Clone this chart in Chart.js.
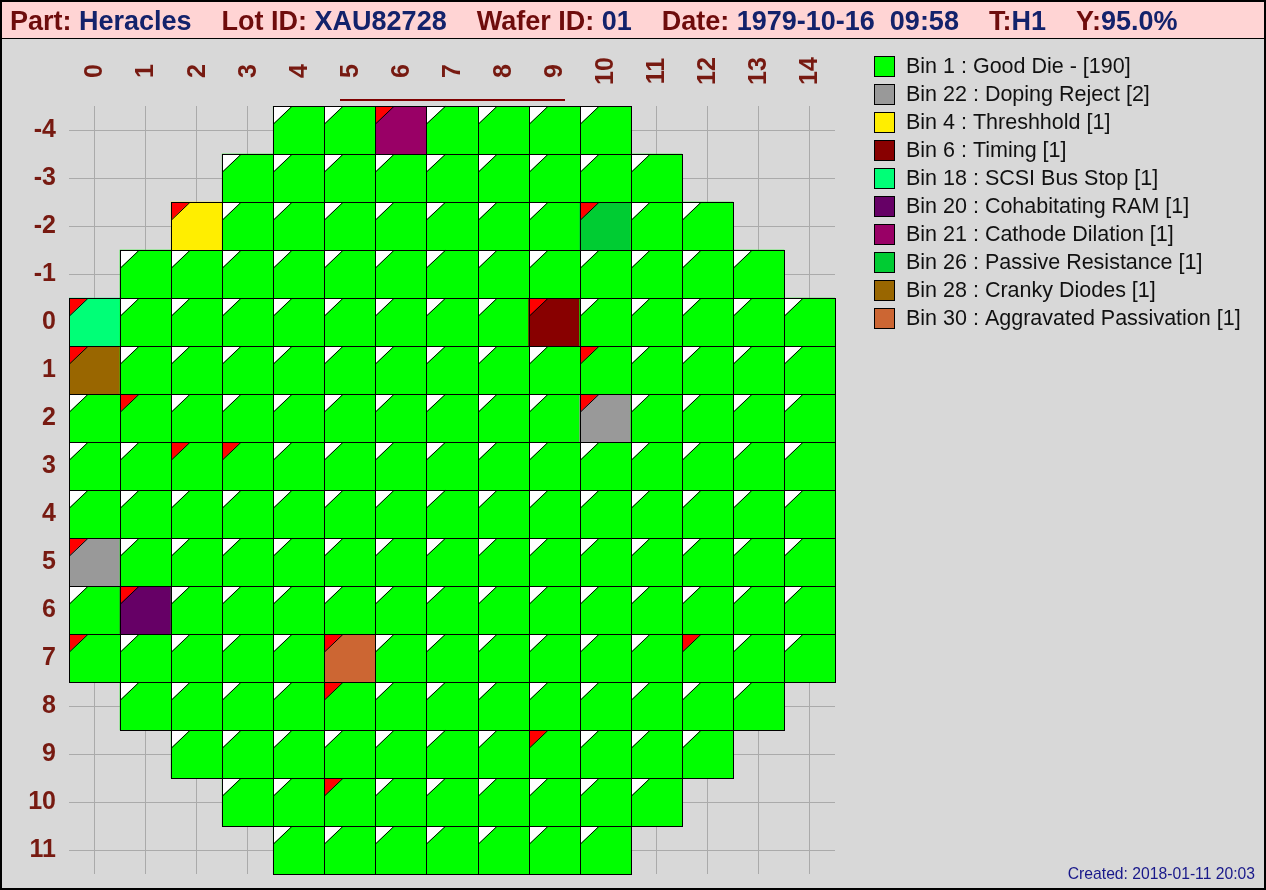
<!DOCTYPE html>
<html><head><meta charset="utf-8">
<script src="https://cdn.jsdelivr.net/npm/chart.js@4/dist/chart.umd.min.js"></script>
<style>html,body{margin:0;padding:0;background:#d8d8d8;overflow:hidden}canvas{display:block}</style>
</head><body>
<canvas id="c" width="1266" height="890"></canvas>
<script>
// ---------- DATA ----------
const colLabels = ['0','1','2','3','4','5','6','7','8','9','10','11','12','13','14'];
const rowValues = [-4,-3,-2,-1,0,1,2,3,4,5,6,7,8,9,10,11];
const rowFirstCol = [4,3,2,1,0,0,0,0,0,0,0,0,1,2,3,4];
const rowLastCol  = [10,11,12,13,14,14,14,14,14,14,14,14,13,12,11,10];

const binIds    = [1,22,4,6,18,20,21,26,28,30];
const binNames  = ['Good Die -','Doping Reject','Threshhold','Timing','SCSI Bus Stop','Cohabitating RAM','Cathode Dilation','Passive Resistance','Cranky Diodes','Aggravated Passivation'];
const binCounts = [190,2,1,1,1,1,1,1,1,1];

// failing dies (all other dies are bin 1)
const failCols = [6,2,10,0,9,0,10,0,1,5];
const failRows = [-4,-2,-2,0,0,1,2,5,6,7];
const failBins = [21,4,26,18,6,28,22,22,20,30];

// dies with a red corner flag
const flagCols = [6,2,10,0,9,0,10,1,10,2,3,0,1,0,5,12,5,9,5];
const flagRows = [-4,-2,-2,0,0,1,1,2,2,3,3,5,6,7,7,7,8,9,10];

const headerLabels = ['Part: ','Lot ID: ','Wafer ID: ','Date: ','T:','Y:'];
const headerValues = ['Heracles','XAU82728','01','1979-10-16  09:58','H1','95.0%'];
const createdText = 'Created: 2018-01-11 20:03';

// ---------- STYLE ----------
const FONT = '"Liberation Sans", Arial, Helvetica, sans-serif';
const binColors = {1:'#00ff00',22:'#999999',4:'#ffee00',6:'#880000',18:'#00ff77',20:'#660066',21:'#990066',26:'#00cc33',28:'#996600',30:'#cc6633'};
const AXIS_COLOR = '#771a11';
const LABEL_COLOR = '#6e0c0c';
const VALUE_COLOR = '#13226b';
const GRID_COLOR = '#aaaaaa';

function binAt(c, r) {
  for (let k = 0; k < failCols.length; k++) if (failCols[k] === c && failRows[k] === r) return failBins[k];
  return 1;
}
function flagAt(c, r) {
  for (let k = 0; k < flagCols.length; k++) if (flagCols[k] === c && flagRows[k] === r) return true;
  return false;
}

const datasets = rowValues.map((r, i) => {
  const data = [], colors = [], flags = [];
  colLabels.forEach((lab, j) => {
    const inside = j >= rowFirstCol[i] && j <= rowLastCol[i];
    data.push(inside ? [r - 0.5, r + 0.5] : null);
    colors.push(inside ? binColors[binAt(j, r)] : 'rgba(0,0,0,0)');
    flags.push(inside && flagAt(j, r));
  });
  return { label: 'Row ' + r, data, backgroundColor: colors, flags };
});

const decorPlugin = {
  id: 'decor',
  beforeDraw(chart) {
    const ctx = chart.ctx;
    ctx.save();
    ctx.fillStyle = '#d8d8d8';
    ctx.fillRect(0, 0, chart.width, chart.height);
    ctx.restore();
  },
  afterDatasetsDraw(chart) {
    const ctx = chart.ctx;
    ctx.save();
    chart.data.datasets.forEach((ds, di) => {
      const meta = chart.getDatasetMeta(di);
      meta.data.forEach((bar, j) => {
        if (ds.data[j] == null) return;
        const p = bar.getProps(['x', 'y', 'base', 'width'], true);
        const L = Math.round(p.x - p.width / 2), R = Math.round(p.x + p.width / 2);
        const T = Math.round(Math.min(p.y, p.base)), B = Math.round(Math.max(p.y, p.base));
        const tw = (R - L) * 0.37, th = (B - T) * 0.375;
        ctx.beginPath();
        ctx.moveTo(L, T); ctx.lineTo(L + tw, T); ctx.lineTo(L, T + th); ctx.closePath();
        ctx.fillStyle = ds.flags[j] ? '#ff0000' : '#ffffff';
        ctx.fill();
        ctx.beginPath();
        ctx.moveTo(L + tw, T + 0.5); ctx.lineTo(L + 0.5, T + th);
        ctx.strokeStyle = '#000'; ctx.lineWidth = 1; ctx.stroke();
        ctx.strokeRect(L + 0.5, T + 0.5, R - L, B - T);
      });
    });
    ctx.restore();
  },
  afterDraw(chart) {
    const ctx = chart.ctx, W = chart.width, H = chart.height, ca = chart.chartArea;
    const xs = chart.scales.x;
    ctx.save();
    // column labels (rotated, centred in the axis band)
    ctx.fillStyle = AXIS_COLOR;
    ctx.font = 'bold 25px ' + FONT;
    ctx.textAlign = 'center';
    ctx.textBaseline = 'middle';
    colLabels.forEach((lab, i) => {
      const x = xs.getPixelForTick(i);
      ctx.save();
      ctx.translate(x + 1, 71);
      ctx.rotate(-Math.PI / 2);
      ctx.fillText(lab, 0, 0);
      ctx.restore();
    });
    // wafer flat marker
    const cx = (ca.left + ca.right) / 2;
    ctx.fillStyle = '#800000';
    ctx.fillRect(Math.round(cx - 112.5), ca.top - 7, 225, 2);
    // header bar
    ctx.fillStyle = '#ffd4d4';
    ctx.fillRect(0, 0, W, 38);
    ctx.fillStyle = '#000';
    ctx.fillRect(0, 38, W, 1);
    ctx.font = 'bold 27px ' + FONT;
    ctx.textAlign = 'left';
    ctx.textBaseline = 'alphabetic';
    let x = 10;
    headerLabels.forEach((lab, i) => {
      if (i > 0) x += ctx.measureText('    ').width;
      ctx.fillStyle = LABEL_COLOR; ctx.fillText(lab, x, 30); x += ctx.measureText(lab).width;
      ctx.fillStyle = VALUE_COLOR; ctx.fillText(headerValues[i], x, 30); x += ctx.measureText(headerValues[i]).width;
    });
    // legend
    ctx.font = '21.5px ' + FONT;
    ctx.textBaseline = 'middle';
    binIds.forEach((id, k) => {
      const y0 = 56 + k * 28;
      ctx.fillStyle = binColors[id];
      ctx.fillRect(874, y0, 21, 21);
      ctx.strokeStyle = '#000'; ctx.lineWidth = 1;
      ctx.strokeRect(874.5, y0 + 0.5, 20, 20);
      ctx.fillStyle = '#111';
      ctx.fillText('Bin ' + id + ' : ' + binNames[k] + ' [' + binCounts[k] + ']', 906, y0 + 11);
    });
    // created
    ctx.font = '15.7px ' + FONT;
    ctx.fillStyle = '#18188a';
    ctx.textAlign = 'right';
    ctx.textBaseline = 'alphabetic';
    ctx.fillText(createdText, 1255, 879);
    // outer border
    ctx.strokeStyle = '#000'; ctx.lineWidth = 2;
    ctx.strokeRect(1, 1, W - 2, H - 2);
    ctx.restore();
  }
};

new Chart(document.getElementById('c'), {
  type: 'bar',
  data: { labels: colLabels, datasets },
  options: {
    responsive: false,
    animation: false,
    events: [],
    layout: { padding: { top: 38, left: 0, right: 431, bottom: 16 } },
    plugins: { legend: { display: false }, tooltip: { enabled: false }, title: { display: false } },
    datasets: { bar: { grouped: false, barPercentage: 1, categoryPercentage: 1, borderWidth: 0 } },
    scales: {
      x: {
        type: 'category', position: 'top', offset: true,
        grid: { offset: false, color: GRID_COLOR, lineWidth: 1, drawTicks: false },
        border: { display: false },
        ticks: { display: false },
        afterFit(s) { s.height = 68; s.paddingLeft = 0; s.paddingRight = 0; }
      },
      y: {
        type: 'linear', reverse: true, min: -4.5, max: 11.5,
        grid: { color: GRID_COLOR, lineWidth: 1, drawTicks: false },
        border: { display: false },
        afterBuildTicks(s) { s.ticks = rowValues.map(v => ({ value: v })); },
        ticks: { padding: 13, color: AXIS_COLOR, font: { family: FONT, size: 25, weight: 'bold' }, callback: v => String(v) },
        afterFit(s) { s.width = 69; s.paddingTop = 0; s.paddingBottom = 0; }
      }
    }
  },
  plugins: [decorPlugin]
});
</script>
</body></html>
